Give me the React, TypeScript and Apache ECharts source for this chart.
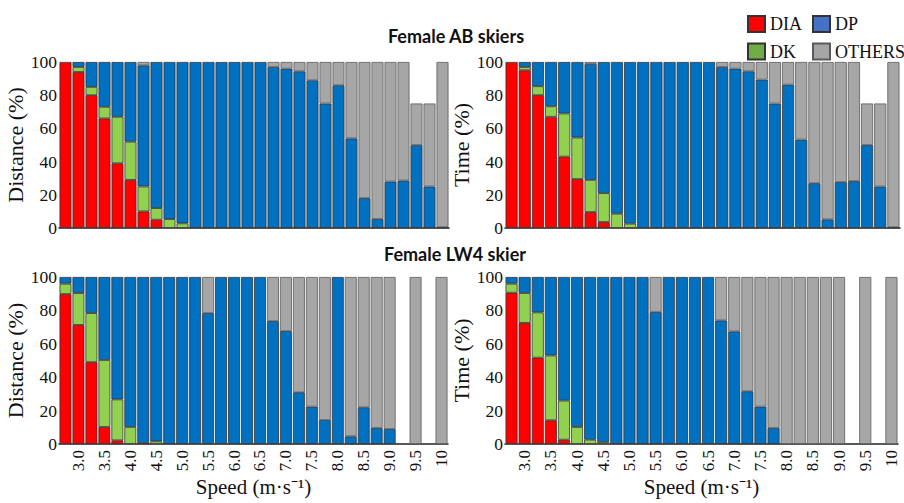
import React, { useEffect, useRef } from "react";
import * as echarts from "echarts";

const categories = [
  "2.75", "3.0", "3.25", "3.5", "3.75", "4.0", "4.25", "4.5", "4.75", "5.0",
  "5.25", "5.5", "5.75", "6.0", "6.25", "6.5", "6.75", "7.0", "7.25", "7.5",
  "7.75", "8.0", "8.25", "8.5", "8.75", "9.0", "9.25", "9.5", "9.75", "10",
];

const seriesNames = ["DIA", "DK", "DP", "OTHERS"];
const barColors = ["#FF0000", "#92D050", "#0070C0", "#A6A6A6"];
const legendColors = ["#FF0000", "#70AD47", "#4472C4", "#A5A5A5"];

// Female AB skiers - Distance (%)
const abDistDIA = [100, 94, 80, 66, 39, 29, 10, 5, 0, 0, 0, 0, 0, 0, 0, 0, 0, 0, 0, 0, 0, 0, 0, 0, 0, 0, 0, 0, 0, 0];
const abDistDK = [0, 3, 5, 7, 28, 23, 15, 7, 5.4, 2.8, 0, 0, 0, 0, 0, 0, 0, 0, 0, 0, 0, 0, 0, 0, 0, 0, 0, 0, 0, 0];
const abDistDP = [0, 3, 15, 27, 33, 48, 73, 88, 94.6, 97.2, 100, 100, 100, 100, 100, 100, 97, 96, 94.4, 89, 75, 86, 54, 18, 5.4, 28, 28.6, 50, 25, 0.5];
const abDistOTH = [0, 0, 0, 0, 0, 0, 2, 0, 0, 0, 0, 0, 0, 0, 0, 0, 3, 4, 5.6, 11, 25, 14, 46, 82, 94.6, 72, 71.4, 25, 50, 99.5];

// Female AB skiers - Time (%)
const abTimeDIA = [100, 95, 80, 67, 43, 29.5, 9.6, 3.6, 0, 0, 0, 0, 0, 0, 0, 0, 0, 0, 0, 0, 0, 0, 0, 0, 0, 0, 0, 0, 0, 0];
const abTimeDK = [0, 2, 5.4, 6.3, 26, 25, 19.4, 17.4, 8.6, 2.6, 0, 0, 0, 0, 0, 0, 0, 0, 0, 0, 0, 0, 0, 0, 0, 0, 0, 0, 0, 0];
const abTimeDP = [0, 3, 14.6, 26.7, 31, 45.5, 69.8, 79, 91.4, 97.4, 100, 100, 100, 100, 100, 100, 97, 96, 94.4, 89.4, 75, 86.4, 53.3, 27, 5.2, 27.7, 28.3, 50, 25, 0.5];
const abTimeOTH = [0, 0, 0, 0, 0, 0, 1.2, 0, 0, 0, 0, 0, 0, 0, 0, 0, 3, 4, 5.6, 10.6, 25, 13.6, 46.7, 73, 94.8, 72.3, 71.7, 25, 50, 99.5];

// Female LW4 skier - Distance (%)
const lwDistDIA = [89.8, 71.3, 49, 10.2, 2.2, 0, 0, 0, 0, 0, 0, 0, 0, 0, 0, 0, 0, 0, 0, 0, 0, 0, 0, 0, 0, 0, 0, 0, 0, 0];
const lwDistDK = [6.2, 19.1, 29.4, 40.1, 24.5, 10.2, 0.6, 1.6, 0, 0, 0, 0, 0, 0, 0, 0, 0, 0, 0, 0, 0, 0, 0, 0, 0, 0, 0, 0, 0, 0];
const lwDistDP = [4, 9.6, 21.6, 49.7, 73.3, 89.8, 99.4, 98.4, 100, 100, 100, 78.4, 100, 100, 100, 100, 73.6, 67.6, 31, 22.4, 14.4, 100, 4.6, 22, 9.6, 9, 0, 0, 0, 0];
const lwDistOTH = [0, 0, 0, 0, 0, 0, 0, 0, 0, 0, 0, 21.6, 0, 0, 0, 0, 26.4, 32.4, 69, 77.6, 85.6, 0, 95.4, 78, 90.4, 91, 0, 100, 0, 100];

// Female LW4 skier - Time (%)
const lwTimeDIA = [90.6, 72.5, 51.7, 14.2, 2.6, 0, 0, 0, 0, 0, 0, 0, 0, 0, 0, 0, 0, 0, 0, 0, 0, 0, 0, 0, 0, 0, 0, 0, 0, 0];
const lwTimeDK = [5.4, 17.9, 27.1, 38.8, 23.4, 10.2, 2.6, 1.2, 0, 0, 0, 0, 0, 0, 0, 0, 0, 0, 0, 0, 0, 0, 0, 0, 0, 0, 0, 0, 0, 0];
const lwTimeDP = [4, 9.6, 21.2, 47, 74, 89.8, 97.4, 98.8, 100, 100, 100, 79, 100, 100, 100, 100, 74, 67.4, 31.6, 22.4, 9.6, 0, 0, 0, 0, 0, 0, 0, 0, 0];
const lwTimeOTH = [0, 0, 0, 0, 0, 0, 0, 0, 0, 0, 0, 21, 0, 0, 0, 0, 26, 32.6, 68.4, 77.6, 90.4, 100, 100, 100, 100, 100, 0, 100, 0, 100];

const panels = [
  { yName: "Distance (%)", data: [abDistDIA, abDistDK, abDistDP, abDistOTH], showX: false, nameGap: 33 },
  { yName: "Time (%)", data: [abTimeDIA, abTimeDK, abTimeDP, abTimeOTH], showX: false, nameGap: 29 },
  { yName: "Distance (%)", data: [lwDistDIA, lwDistDK, lwDistDP, lwDistOTH], showX: true, nameGap: 33 },
  { yName: "Time (%)", data: [lwTimeDIA, lwTimeDK, lwTimeDP, lwTimeOTH], showX: true, nameGap: 29 },
];

const SERIF = "'Liberation Serif', 'Times New Roman', serif";

export default function App() {
  const ref = useRef<HTMLDivElement>(null);
  useEffect(() => {
    if (!ref.current) return;
    const chart = echarts.init(ref.current, undefined, { renderer: "svg" });
    const grids = [
      { left: 59, right: 455, top: 62, bottom: 275 },
      { left: 505, right: 4, top: 62, bottom: 275 },
      { left: 59, right: 456, top: 277, bottom: 59 },
      { left: 505, right: 6, top: 277, bottom: 59 },
    ];
    const xAxis = panels.map((p, i) => ({
      type: "category",
      gridIndex: i,
      data: categories,
      axisLine: { show: true, lineStyle: { color: "#222", width: 1.5 } },
      axisTick: { show: false },
      axisLabel: {
        show: p.showX,
        rotate: 90,
        interval: (idx: number) => idx % 2 === 1,
        fontFamily: SERIF,
        fontSize: 17,
        color: "#111",
        margin: 6,
      },
      name: p.showX ? "Speed (m·s⁻¹)" : "",
      nameLocation: "middle",
      nameGap: 32,
      nameTextStyle: { fontFamily: SERIF, fontSize: 21, color: "#111" },
    }));
    const yAxis = panels.map((p, i) => ({
      type: "value",
      gridIndex: i,
      min: 0,
      max: 100,
      interval: 20,
      axisLine: { show: false },
      axisTick: { show: false },
      splitLine: { show: false },
      axisLabel: { fontFamily: SERIF, fontSize: 17.5, color: "#111", margin: 2 },
      name: p.yName,
      nameLocation: "middle",
      nameGap: p.nameGap,
      nameTextStyle: { fontFamily: SERIF, fontSize: 22, color: "#111" },
    }));
    const series: any[] = [];
    panels.forEach((p, pi) => {
      p.data.forEach((arr, si) => {
        series.push({
          type: "bar",
          name: seriesNames[si],
          xAxisIndex: pi,
          yAxisIndex: pi,
          stack: "s" + pi,
          barCategoryGap: "8%",
          data: arr.map((v) => (v === 0 ? "-" : v)),
          itemStyle: {
            color: barColors[si],
            borderColor: si === 3 ? "#5a5a5a" : "#333",
            borderWidth: 0.8,
          },
        });
      });
    });
    const legendText = { fontFamily: SERIF, fontSize: 18, color: "#111" };
    const option: any = {
      animation: false,
      grid: grids,
      xAxis,
      yAxis,
      series,
      legend: [
        {
          orient: "vertical",
          left: 742,
          top: 10,
          itemWidth: 17,
          itemHeight: 16,
          itemGap: 9.5,
          icon: "rect",
          textStyle: legendText,
          data: [
            { name: "DIA", itemStyle: { color: legendColors[0] } },
            { name: "DK", itemStyle: { color: legendColors[1] } },
          ],
        },
        {
          orient: "vertical",
          left: 807,
          top: 10,
          itemWidth: 17,
          itemHeight: 16,
          itemGap: 9.5,
          icon: "rect",
          textStyle: legendText,
          data: [
            { name: "DP", itemStyle: { color: legendColors[2] } },
            { name: "OTHERS", itemStyle: { color: legendColors[3] } },
          ],
        },
      ],
      graphic: [
        {
          type: "text",
          x: 456,
          y: 36,
          style: {
            text: "Female AB skiers",
            font: "bold 18px Lato, 'Open Sans', sans-serif",
            fill: "#111",
            align: "center",
            verticalAlign: "middle",
          },
        },
        {
          type: "text",
          x: 455,
          y: 254,
          style: {
            text: "Female LW4 skier",
            font: "bold 18px Lato, 'Open Sans', sans-serif",
            fill: "#111",
            align: "center",
            verticalAlign: "middle",
          },
        },
      ],
    };
    chart.setOption(option);
    return () => chart.dispose();
  }, []);
  return (
    <div
      ref={ref}
      style={{ position: "fixed", left: 0, top: 0, width: 904, height: 503, background: "#fff" }}
    />
  );
}
